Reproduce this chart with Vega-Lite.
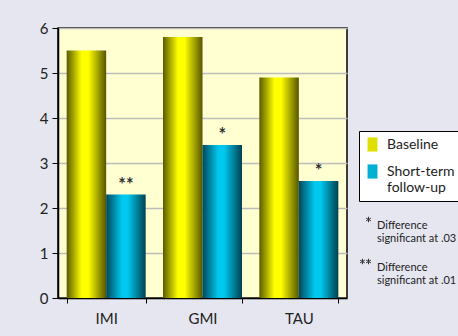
{
  "$schema": "https://vega.github.io/schema/vega-lite/v6.json",
  "autosize": "none",
  "width": 289,
  "height": 270,
  "padding": {"left": 58, "top": 28, "right": 111, "bottom": 38},
  "background": "#e6e6f0",
  "config": {
    "font": "Lato, sans-serif",
    "view": {"fill": "#ffffd2", "stroke": "#000000", "strokeWidth": 1.5},
    "axis": {"labelFont": "Lato, sans-serif", "labelFontSize": 15, "labelColor": "#222", "domainColor": "#000", "tickColor": "#000", "title": null},
    "legend": {"labelFont": "Lato, sans-serif", "labelColor": "#222"}
  },
  "data": {"values": [
    {"measure": "IMI", "series": "Baseline", "value": 5.5},
    {"measure": "IMI", "series": "Short-term follow-up", "value": 2.3, "star": "**", "note": ".01"},
    {"measure": "GMI", "series": "Baseline", "value": 5.8},
    {"measure": "GMI", "series": "Short-term follow-up", "value": 3.4, "star": "*", "note": ".03"},
    {"measure": "TAU", "series": "Baseline", "value": 4.9},
    {"measure": "TAU", "series": "Short-term follow-up", "value": 2.6, "star": "*", "note": ".03"}
  ]},
  "encoding": {
    "x": {"field": "measure", "type": "nominal", "sort": ["IMI", "GMI", "TAU"],
      "scale": {"paddingInner": 0.18, "paddingOuter": 0.09},
      "axis": {"labelAngle": 0, "tickBand": "extent", "tickSize": 5, "labelPadding": 8, "domainWidth": 1.5}},
    "xOffset": {"field": "series", "type": "nominal", "sort": ["Baseline", "Short-term follow-up"], "scale": {"paddingInner": 0, "paddingOuter": 0}},
    "y": {"field": "value", "type": "quantitative", "scale": {"domain": [0, 6]},
      "axis": {"values": [0,1,2,3,4,5,6], "gridColor": "#bdbdbd", "gridWidth": 1.5, "tickSize": 6, "labelPadding": 4, "domainWidth": 1.5}}
  },
  "layer": [
    {
      "mark": {"type": "bar"},
      "encoding": {
        "fill": {
          "condition": [
            {"test": "datum.series == 'Baseline'", "value": {"gradient": "linear", "x1": 0, "y1": 0, "x2": 1, "y2": 0, "stops": [
              {"offset": 0, "color": "#5a5a00"}, {"offset": 0.38, "color": "#ffff00"}, {"offset": 0.55, "color": "#ffff00"}, {"offset": 1, "color": "#555500"}]}},
            {"test": "datum.series == 'Short-term follow-up'", "value": {"gradient": "linear", "x1": 0, "y1": 0, "x2": 1, "y2": 0, "stops": [
              {"offset": 0, "color": "#00485a"}, {"offset": 0.4, "color": "#00c8ee"}, {"offset": 0.55, "color": "#00c8ee"}, {"offset": 1, "color": "#00404f"}]}}
          ],
          "field": "series", "type": "nominal",
          "scale": {"domain": ["Baseline", "Short-term follow-up"], "range": ["#e0e000", "#00b0d4"]},
          "legend": {"title": null, "orient": "none", "legendX": 301, "legendY": 103,
            "fillColor": "#ffffff", "strokeColor": "#000000", "padding": 6,
            "symbolType": "M-0.7,-1H0.7V1H-0.7Z", "symbolSize": 200, "symbolStrokeWidth": 0,
            "labelFontSize": 14, "labelOffset": 7, "rowPadding": 12, "labelLineHeight": 18, "labelBaseline": "middle",
            "labelExpr": "datum.label == 'Short-term follow-up' ? ['Short-term', 'follow-up'] : datum.label"}
        }
      }
    },
    {
      "transform": [{"filter": "datum.star"}],
      "mark": {"type": "text", "baseline": "middle", "dy": -9, "fontSize": 18, "fontWeight": "bold", "color": "#333"},
      "encoding": {"text": {"field": "star"}}
    },
    {
      "transform": [{"filter": "datum.star"}],
      "mark": {"type": "point", "opacity": 0, "filled": false},
      "encoding": {
        "shape": {"field": "note", "type": "nominal",
          "scale": {"domain": [".03", ".01"], "range": [
            "M0,-1L0,1M-0.87,-0.5L0.87,0.5M-0.87,0.5L0.87,-0.5",
            "M-2.2,-1L-2.2,1M-3.07,-0.5L-1.33,0.5M-3.07,0.5L-1.33,-0.5M0,-1L0,1M-0.87,-0.5L0.87,0.5M-0.87,0.5L0.87,-0.5"]},
          "legend": {"title": null, "orient": "none", "legendX": 305, "legendY": 186,
            "symbolOpacity": 1, "symbolSize": 30, "symbolStrokeColor": "#333", "symbolFillColor": "transparent", "symbolStrokeWidth": 1,
            "labelFontSize": 11, "labelOffset": 3, "rowPadding": 12, "labelLineHeight": 16, "labelBaseline": "top",
            "labelExpr": "['Difference', 'significant at ' + datum.label]"}
        }
      }
    }
  ]
}
